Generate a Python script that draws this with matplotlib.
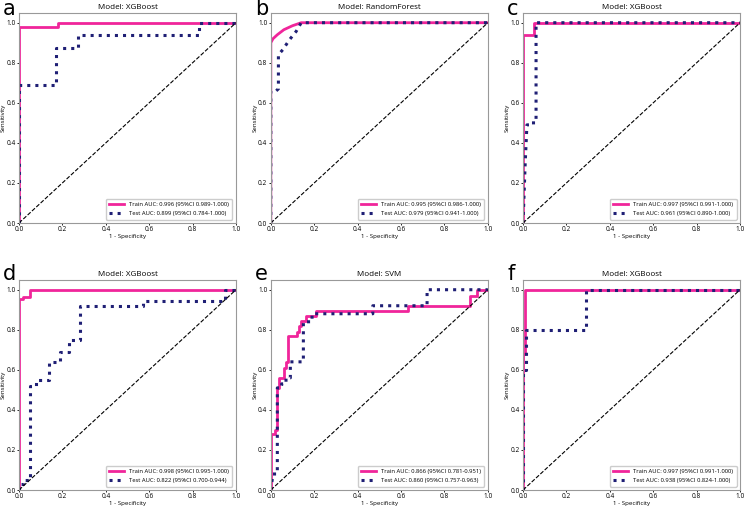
import matplotlib
matplotlib.use("Agg")
import matplotlib.pyplot as plt

plt.rcParams['font.family'] = ['Open Sans', 'DejaVu Sans']

# panel data: (fpr, tpr) points
labels = ['a', 'b', 'c', 'd', 'e', 'f']
models = ['XGBoost', 'RandomForest', 'XGBoost', 'XGBoost', 'SVM', 'XGBoost']

train_auc = ['0.996 (95%CI 0.989-1.000)', '0.995 (95%CI 0.986-1.000)',
             '0.997 (95%CI 0.991-1.000)', '0.998 (95%CI 0.995-1.000)',
             '0.866 (95%CI 0.781-0.951)', '0.997 (95%CI 0.991-1.000)']
test_auc = ['0.899 (95%CI 0.784-1.000)', '0.979 (95%CI 0.941-1.000)',
            '0.961 (95%CI 0.890-1.000)', '0.822 (95%CI 0.700-0.944)',
            '0.860 (95%CI 0.757-0.963)', '0.938 (95%CI 0.824-1.000)']

train_fpr_a = [0, 0, 0.18, 0.18, 1]
train_tpr_a = [0, 0.98, 0.98, 1.0, 1]
test_fpr_a = [0, 0, 0.17, 0.17, 0.27, 0.27, 0.83, 0.83, 1]
test_tpr_a = [0, 0.69, 0.69, 0.875, 0.875, 0.94, 0.94, 1.0, 1]

train_fpr_b = [0, 0, 0.01, 0.03, 0.06, 0.10, 0.14, 1]
train_tpr_b = [0, 0.90, 0.92, 0.94, 0.965, 0.985, 1.0, 1]
test_fpr_b = [0, 0, 0.025, 0.035, 0.035, 0.055, 0.086, 0.117, 0.14, 1]
test_tpr_b = [0, 0.66, 0.66, 0.67, 0.84, 0.865, 0.915, 0.957, 1.0, 1]

train_fpr_c = [0, 0, 0.05, 0.05, 1]
train_tpr_c = [0, 0.94, 0.94, 1.0, 1]
test_fpr_c = [0, 0.005, 0.01, 0.018, 0.03, 0.03, 0.06, 0.06, 1]
test_tpr_c = [0, 0.15, 0.30, 0.49, 0.49, 0.50, 0.50, 1.0, 1]

train_fpr_d = [0, 0, 0.02, 0.02, 0.05, 0.05, 1]
train_tpr_d = [0, 0.955, 0.955, 0.965, 0.965, 1.0, 1]
test_fpr_d = [0, 0, 0.02, 0.02, 0.05, 0.05, 0.08, 0.08, 0.14, 0.14, 0.19, 0.19,
              0.23, 0.23, 0.28, 0.28, 0.57, 0.57, 0.95, 0.95, 0.95, 1]
test_tpr_d = [0, 0.03, 0.03, 0.05, 0.05, 0.52, 0.52, 0.55, 0.55, 0.64, 0.64, 0.69,
              0.69, 0.75, 0.75, 0.92, 0.92, 0.945, 0.945, 0.97, 1.0, 1]

train_fpr_e = [0, 0, 0.02, 0.02, 0.03, 0.03, 0.04, 0.04, 0.06, 0.06, 0.07, 0.07,
               0.08, 0.08, 0.12, 0.12, 0.13, 0.13, 0.14, 0.14, 0.16, 0.16, 0.21,
               0.21, 0.63, 0.63, 0.92, 0.92, 0.95, 0.95, 1]
train_tpr_e = [0, 0.28, 0.28, 0.30, 0.30, 0.51, 0.51, 0.56, 0.56, 0.61, 0.61, 0.64,
               0.64, 0.77, 0.77, 0.79, 0.79, 0.82, 0.82, 0.845, 0.845, 0.87, 0.87,
               0.895, 0.895, 0.92, 0.92, 0.97, 0.97, 1.0, 1]
test_fpr_e = [0, 0.01, 0.03, 0.03, 0.05, 0.05, 0.07, 0.07, 0.09, 0.09, 0.15, 0.15,
              0.19, 0.19, 0.47, 0.47, 0.72, 0.72, 1]
test_tpr_e = [0, 0.08, 0.08, 0.51, 0.51, 0.53, 0.53, 0.56, 0.56, 0.64, 0.64, 0.84,
              0.84, 0.88, 0.88, 0.92, 0.92, 1.0, 1]

train_fpr_f = [0, 0, 0.01, 0.01, 1]
train_tpr_f = [0, 0.68, 0.68, 1.0, 1]
test_fpr_f = [0, 0, 0.015, 0.015, 0.29, 0.29, 1]
test_tpr_f = [0, 0.60, 0.60, 0.80, 0.80, 1.0, 1]

train_fpr = [train_fpr_a, train_fpr_b, train_fpr_c, train_fpr_d, train_fpr_e, train_fpr_f]
train_tpr = [train_tpr_a, train_tpr_b, train_tpr_c, train_tpr_d, train_tpr_e, train_tpr_f]
test_fpr = [test_fpr_a, test_fpr_b, test_fpr_c, test_fpr_d, test_fpr_e, test_fpr_f]
test_tpr = [test_tpr_a, test_tpr_b, test_tpr_c, test_tpr_d, test_tpr_e, test_tpr_f]

ticks = [0.0, 0.2, 0.4, 0.6, 0.8, 1.0]

fig = plt.figure(figsize=(7.44, 5.08), dpi=100)

lefts = [0.0255, 0.364, 0.703]
bottoms = [0.561, 0.0354]
w, h = 0.2917, 0.414
label_y = [0.970, 0.449]

for i in range(6):
    r, c = divmod(i, 3)
    ax = fig.add_axes([lefts[c], bottoms[r], w, h])
    ax.plot(train_fpr[i], train_tpr[i], color='#f0259a', lw=2,
            label='Train AUC: ' + train_auc[i])
    ax.plot(test_fpr[i], test_tpr[i], color='#1f1f75', lw=2.2, ls=':',
            label='Test AUC: ' + test_auc[i])
    ax.plot([0, 1], [0, 1], color='black', lw=0.8, ls='--')
    ax.set_xlim(0, 1)
    ax.set_ylim(0, 1.05)
    ax.set_xticks(ticks)
    ax.set_yticks(ticks)
    ax.tick_params(labelsize=4.7, length=1.5, width=0.6, pad=1)
    for s in ax.spines.values():
        s.set_color('#999999')
        s.set_linewidth(0.8)
    ax.set_xlabel('1 - Specificity', fontsize=4.4, labelpad=0.5)
    ax.set_ylabel('Sensitivity', fontsize=4.4, labelpad=0.5)
    ax.set_title('Model: ' + models[i], fontsize=5.8, pad=2.5)
    ax.legend(loc='lower right', fontsize=4.2, handlelength=2.6, framealpha=1,
              edgecolor='#cccccc', fancybox=True, borderpad=0.6,
              borderaxespad=0.6, labelspacing=0.6)
    fig.text(lefts[c] - 0.0215, label_y[r], labels[i], fontsize=15,
             family='DejaVu Sans', va='baseline', ha='left')

fig.savefig('out.png', dpi=100)
